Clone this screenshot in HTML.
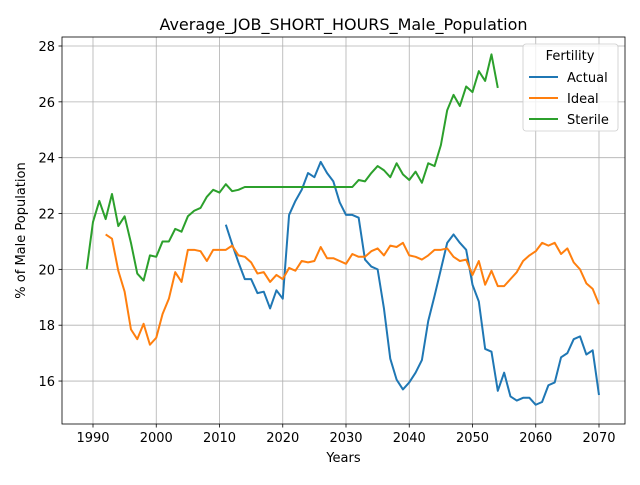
<!DOCTYPE html>
<html><head><meta charset="utf-8"><style>
body{margin:0;background:#fff;}
svg{font-family:"DejaVu Sans","Liberation Sans",sans-serif;}
</style></head><body>
<svg id="chart" width="640" height="480"></svg>
<script>
const sterileStart = 1989;
const sterileValues = [20.0,21.7,22.45,21.8,22.7,21.55,21.9,20.95,19.85,19.6,20.5,20.45,21.0,21.0,21.45,21.35,21.9,22.1,22.2,22.6,22.85,22.75,23.05,22.8,22.85,22.95,22.95,22.95,22.95,22.95,22.95,22.95,22.95,22.95,22.95,22.95,22.95,22.95,22.95,22.95,22.95,22.95,22.95,23.2,23.15,23.45,23.7,23.55,23.3,23.8,23.4,23.2,23.5,23.1,23.8,23.7,24.45,25.7,26.25,25.85,26.55,26.35,27.1,26.75,27.7,26.5];
const idealStart = 1992;
const idealValues = [21.25,21.1,19.95,19.2,17.85,17.5,18.05,17.3,17.55,18.4,18.95,19.9,19.55,20.7,20.7,20.65,20.3,20.7,20.7,20.7,20.85,20.5,20.45,20.25,19.85,19.9,19.55,19.8,19.65,20.05,19.95,20.3,20.25,20.3,20.8,20.4,20.4,20.3,20.2,20.55,20.45,20.45,20.65,20.75,20.5,20.85,20.8,20.95,20.5,20.45,20.35,20.5,20.7,20.7,20.75,20.45,20.3,20.35,19.8,20.3,19.45,19.95,19.4,19.4,19.65,19.9,20.3,20.5,20.65,20.95,20.85,20.95,20.55,20.75,20.25,20.0,19.5,19.3,18.75];
const actualStart = 2011;
const actualValues = [21.6,20.9,20.25,19.65,19.65,19.15,19.2,18.6,19.25,18.95,21.95,22.45,22.85,23.45,23.3,23.85,23.45,23.15,22.4,21.95,21.95,21.85,20.35,20.1,20.0,18.6,16.8,16.05,15.7,15.95,16.3,16.75,18.15,19.05,20.0,20.95,21.25,20.95,20.7,19.45,18.85,17.15,17.05,15.65,16.3,15.45,15.3,15.4,15.4,15.15,15.25,15.85,15.95,16.85,17.0,17.5,17.6,16.95,17.1,15.5];
const xTicks = [1990,2000,2010,2020,2030,2040,2050,2060,2070];
const yTicks = [16,18,20,22,24,26,28];

const L=62,R=625,T=37,B=424;
const xs = y => 93 + (y-1990)*6.325;
const ys = v => 46 + (28-v)*27.92;
const svg = document.getElementById('chart');
const NS='http://www.w3.org/2000/svg';
function mk(tag, attrs, parent){const e=document.createElementNS(NS,tag);for(const k in attrs)e.setAttribute(k,attrs[k]);(parent||svg).appendChild(e);return e;}

xTicks.forEach(t=>{
  const g=mk('line',{x1:xs(t),x2:xs(t),y1:T,y2:B,stroke:'#b0b0b0','stroke-width':0.8});
  
  
  mk('line',{x1:xs(t),x2:xs(t),y1:B,y2:B+3.5,stroke:'#000','stroke-width':0.8});
  const tx=mk('text',{x:xs(t),y:B+18,'text-anchor':'middle','font-size':13});
  tx.textContent=t;
  
  
});
yTicks.forEach(t=>{
  const g=mk('line',{x1:L,x2:R,y1:ys(t),y2:ys(t),stroke:'#b0b0b0','stroke-width':0.8});
  
  
  mk('line',{x1:L-3.5,x2:L,y1:ys(t),y2:ys(t),stroke:'#000','stroke-width':0.8});
  const tx=mk('text',{x:L-7,y:ys(t)+5,'text-anchor':'end','font-size':13});
  tx.textContent=t;
  
  
});

function series(start, vals, color, name){
  const pts=vals.map((v,i)=>xs(start+i).toFixed(2)+','+ys(v).toFixed(2)).join(' ');
  const p=mk('polyline',{points:pts,fill:'none',stroke:color,'stroke-width':2,'stroke-linejoin':'round'});
  
  
}
series(actualStart, actualValues, '#1f77b4', 'actual-line');
series(idealStart, idealValues, '#ff7f0e', 'ideal-line');
series(sterileStart, sterileValues, '#2ca02c', 'sterile-line');

const frame=mk('rect',{x:L,y:T,width:R-L,height:B-T,fill:'none',stroke:'#000','stroke-width':0.8});



const title=mk('text',{x:(L+R)/2,y:30,'text-anchor':'middle','font-size':16});
title.textContent='Average_JOB_SHORT_HOURS_Male_Population';


const xl=mk('text',{x:(L+R)/2,y:462,'text-anchor':'middle','font-size':13});
xl.textContent='Years';


const yl=mk('text',{x:0,y:0,'text-anchor':'middle','font-size':13,transform:'translate(25,'+((T+B)/2)+') rotate(-90)'});
yl.textContent='% of Male Population';



const leg=mk('g',{});


mk('rect',{x:523,y:44,width:95,height:87,rx:3,fill:'#fff','fill-opacity':0.8,stroke:'#ccc','stroke-width':0.8},leg);
const lt=mk('text',{x:570,y:60,'text-anchor':'middle','font-size':13},leg);
lt.textContent='Fertility';
[['Actual','#1f77b4'],['Ideal','#ff7f0e'],['Sterile','#2ca02c']].forEach((d,i)=>{
  const y=77+i*21;
  const e=mk('g',{},leg);
  
  
  mk('line',{x1:529,x2:558,y1:y,y2:y,stroke:d[1],'stroke-width':2},e);
  const t=mk('text',{x:567,y:y+5,'font-size':13},e);
  t.textContent=d[0];
});
</script>
</body></html>
